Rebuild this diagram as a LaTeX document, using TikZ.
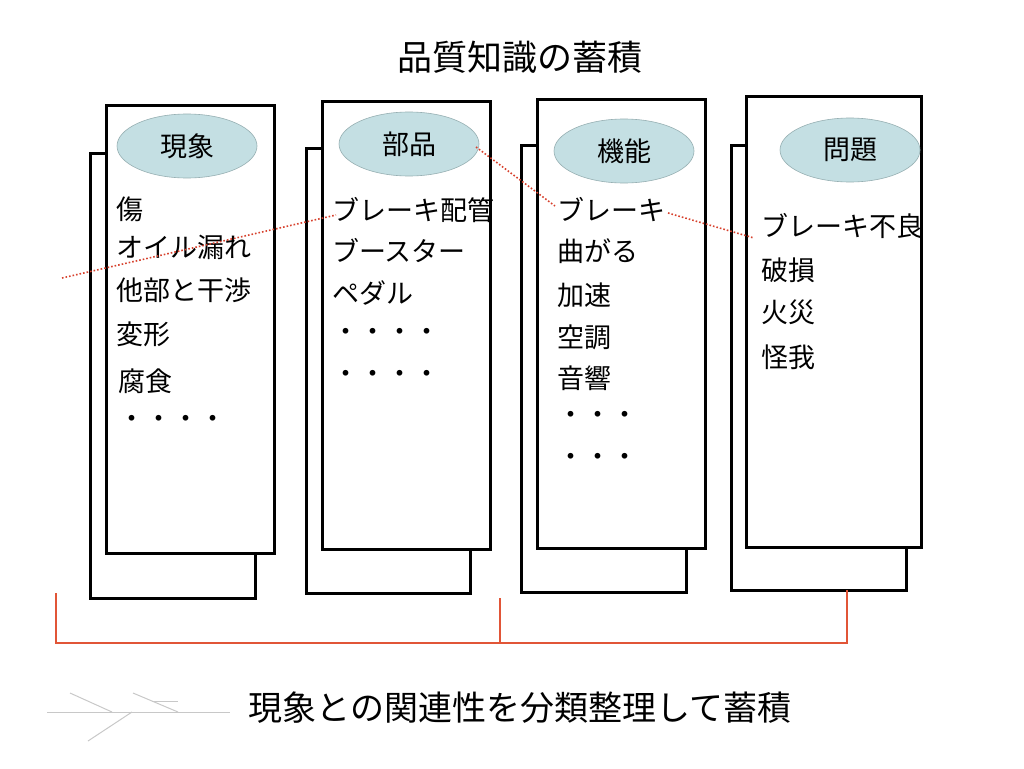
\documentclass[tikz,border=0pt]{standalone}
\usepackage{fontspec}
\setmainfont{Noto Sans CJK JP}
\usetikzlibrary{shapes.geometric}
\definecolor{ellfill}{RGB}{196,223,227}
\definecolor{elldraw}{RGB}{150,175,178}
\definecolor{dotred}{RGB}{215,65,45}
\definecolor{brk}{RGB}{225,85,55}
\definecolor{fish}{RGB}{200,200,200}
\tikzset{
  backbox/.style={draw=black,line width=3pt,fill=white},
  frontbox/.style={draw=black,line width=3pt,fill=white},
  head/.style={ellipse,draw=elldraw,line width=0.6pt,fill=ellfill,minimum width=140pt,minimum height=64pt,inner sep=0pt,font=\fontsize{27}{27}\selectfont},
  item/.style={anchor=west,inner sep=0pt,font=\fontsize{27}{27}\selectfont},
  title/.style={inner sep=0pt,font=\fontsize{35}{35}\selectfont},
  bottomtext/.style={inner sep=0pt,font=\fontsize{34}{34}\selectfont},
  link/.style={draw=dotred,dotted,line width=1.6pt},
  bracket/.style={draw=brk,line width=2.4pt},
  fishline/.style={draw=fish,line width=1pt}
}
\begin{document}
\begin{tikzpicture}[x=1pt,y=-1pt]
\useasboundingbox (0,0) rectangle (1024,768);
% back boxes
\draw[backbox] (90,153) rectangle (255,598);
\draw[backbox] (306,148) rectangle (470,593);
\draw[backbox] (521,145) rectangle (686,592);
\draw[backbox] (731,145) rectangle (906,590);
% front boxes
\draw[frontbox] (106,105) rectangle (274,553);
\draw[frontbox] (322,101) rectangle (490,549);
\draw[frontbox] (537,99) rectangle (705,548);
\draw[frontbox] (746,96) rectangle (921,547);
% headers
\node[head] (h1) at (187,146) {現象};
\node[head] (h2) at (409,144) {部品};
\node[head] (h3) at (624,151) {機能};
\node[head] (h4) at (850,150) {問題};
% title
\node[title] (t) at (520,57) {品質知識の蓄積};
\node[bottomtext] (b) at (520,708) {現象との関連性を分類整理して蓄積};
% column 1
\node[item] (a1) at (116,209) {傷};
\node[item] (a2) at (116,247) {オイル漏れ};
\node[item] (a3) at (116,290) {他部と干渉};
\node[item] (a4) at (116,334) {変形};
\node[item] (a5) at (118,381) {腐食};
\node[item] (a6) at (118,422) {・・・・};
% column 2
\node[item] (b1) at (332,210) {ブレーキ配管};
\node[item] (b2) at (332,251) {ブースター};
\node[item] (b3) at (332,293) {ペダル};
\node[item] (b4) at (332,335) {・・・・};
\node[item] (b5) at (332,377) {・・・・};
% column 3
\node[item] (c1) at (557,210) {ブレーキ};
\node[item] (c2) at (557,251) {曲がる};
\node[item] (c3) at (557,295) {加速};
\node[item] (c4) at (557,337) {空調};
\node[item] (c5) at (557,378) {音響};
\node[item] (c6) at (557,418) {・・・};
\node[item] (c7) at (557,460) {・・・};
% column 4
\node[item] (d1) at (761,226) {ブレーキ不良};
\node[item] (d2) at (761,270) {破損};
\node[item] (d3) at (761,312) {火災};
\node[item] (d4) at (761,357) {怪我};
% dotted links
\coordinate (l0) at (62,278);
\coordinate (l1) at (336,215);
\coordinate (l2) at (476,147);
\coordinate (l3) at (555,206);
\coordinate (l4) at (668,213);
\coordinate (l5) at (754,238);
\draw[link] (l0) -- (l1);
\draw[link] (l2) -- (l3);
\draw[link] (l4) -- (l5);
% bracket
\coordinate (k1) at (56,593);
\coordinate (k2) at (56,643);
\coordinate (k3) at (847,643);
\coordinate (k4) at (847,590);
\coordinate (k5) at (500,598);
\coordinate (k6) at (500,643);
\draw[bracket] (k1) -- (k2) -- (k3) -- (k4);
\draw[bracket] (k5) -- (k6);
% fishbone
\coordinate (f1) at (47,712);
\coordinate (f2) at (230,712);
\coordinate (f3) at (70,693);
\coordinate (f4) at (112,712);
\coordinate (f5) at (132,712);
\coordinate (f6) at (88,741);
\coordinate (f7) at (133,693);
\coordinate (f8) at (178,712);
\coordinate (f9) at (152,701);
\coordinate (f10) at (178,701);
\draw[fishline] (f1) -- (f2);
\draw[fishline] (f3) -- (f4);
\draw[fishline] (f5) -- (f6);
\draw[fishline] (f7) -- (f8);
\draw[fishline] (f9) -- (f10);
\end{tikzpicture}
\end{document}
